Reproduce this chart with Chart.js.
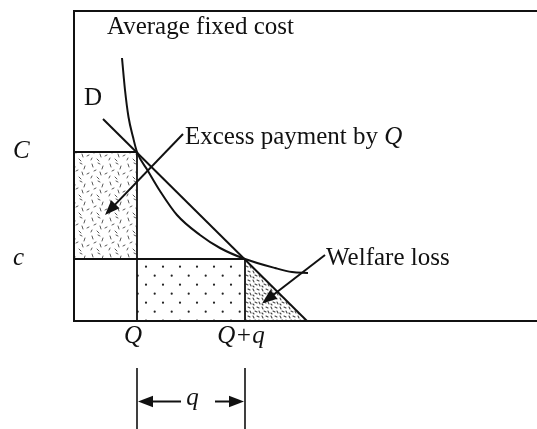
<!DOCTYPE html>
<html>
<head>
<meta charset="utf-8">
<script src="https://cdn.jsdelivr.net/npm/chart.js@4.4.1/dist/chart.umd.min.js"></script>
<style>
	html, body { margin: 0; padding: 0; background: #fff; }
	canvas { display: block; }
</style>
</head>
<body>
<canvas id="chart" width="537" height="429"></canvas>
<script>
;(function () {
	'use strict';

	// Quantities on the horizontal axis
	var qtyLabels = ['Q', 'Q+q'];
	var qtyValues = [6.3, 17.1];

	// Cost levels on the vertical axis
	var costLabels = ['C', 'c'];
	var costValues = [16.9, 6.2];

	// Demand line D (two end points)
	var demandX = [2.9, 23.3];
	var demandY = [20.2, 0];

	// Average fixed cost curve
	var afcX = [4.8, 5.1, 5.45, 5.9, 6.3, 7.4, 8.6, 10.3, 12.6, 14.6, 17.1, 20.1, 21.8, 23.4];
	var afcY = [26.3, 23.1, 20.4, 18.4, 16.9, 15.0, 13.0, 10.6, 8.6, 7.3, 6.2, 5.3, 4.9, 4.8];

	var Q = qtyValues[0],
		Qq = qtyValues[1],
		C = costValues[0],
		c = costValues[1],
		demandEnd = demandX[1];

	var SERIF = '"Liberation Serif", "Times New Roman", serif';

	function points(xs, ys) {
		return xs.map(function (v, i) { return {x: v, y: ys[i]}; });
	}

	function makePattern(w, h, draw) {
		var tile = document.createElement('canvas'),
			g = tile.getContext('2d');
		tile.width = w;
		tile.height = h;
		g.fillStyle = '#fff';
		g.fillRect(0, 0, w, h);
		draw(g);
		return g.createPattern(tile, 'repeat');
	}

	function strokes(list, color, width) {
		return function (g) {
			g.strokeStyle = color;
			g.lineWidth = width;
			g.lineCap = 'round';
			list.forEach(function (s) {
				g.beginPath();
				g.moveTo(s[0], s[1]);
				g.lineTo(s[2], s[3]);
				g.stroke();
			});
		};
	}

	// loose speckle for the excess payment block
	var speckle = makePattern(18, 18, strokes([
		[2, 2, 3, 5], [8, 1, 10, 2], [13, 4, 12, 7], [4, 9, 6, 8],
		[10, 10, 11, 13], [15, 12, 17, 11], [2, 14, 1, 16], [7, 15, 9, 17]
	], '#5a5a5a', 1));

	// regular staggered dots for the Q..Q+q block
	var dots = makePattern(17, 18, function (g) {
		g.fillStyle = '#222';
		g.beginPath();
		g.arc(10, 14.7, 1.1, 0, Math.PI * 2);
		g.arc(1.7, 5.7, 1.1, 0, Math.PI * 2);
		g.fill();
	});

	// dense speckle for the welfare loss triangle
	var dense = makePattern(9, 9, strokes([
		[1, 1, 2, 3], [5, 1, 7, 2], [3, 5, 5, 6], [7, 5, 8, 7], [1, 7, 2, 8]
	], '#444', 1.1));

	function arrow(ctx, x1, y1, x2, y2, head) {
		var a = Math.atan2(y2 - y1, x2 - x1),
			ca = Math.cos(a),
			sa = Math.sin(a),
			w = head * 0.38;

		ctx.beginPath();
		ctx.moveTo(x1, y1);
		ctx.lineTo(x2 - ca * head * 0.8, y2 - sa * head * 0.8);
		ctx.stroke();

		ctx.beginPath();
		ctx.moveTo(x2, y2);
		ctx.lineTo(x2 - head * ca + w * sa, y2 - head * sa - w * ca);
		ctx.lineTo(x2 - head * ca - w * sa, y2 - head * sa + w * ca);
		ctx.closePath();
		ctx.fill();
	}

	// Frame, axis labels, captions and arrows
	var annotate = {
		id: 'annotate',
		afterDatasetsDraw: function (chart) {
			var ctx = chart.ctx,
				xs = chart.scales.x,
				ys = chart.scales.y,
				area = chart.chartArea,
				px = function (v) { return xs.getPixelForValue(v); },
				py = function (v) { return ys.getPixelForValue(v); },
				caption, captionWidth;

			ctx.save();
			ctx.strokeStyle = '#111';
			ctx.fillStyle = '#111';
			ctx.lineWidth = 2;
			ctx.beginPath();
			ctx.moveTo(area.right, area.top);
			ctx.lineTo(area.left, area.top);
			ctx.lineTo(area.left, area.bottom);
			ctx.lineTo(area.right, area.bottom);
			ctx.stroke();

			ctx.textBaseline = 'alphabetic';

			// cost levels, left of the axis
			ctx.font = 'italic 25px ' + SERIF;
			ctx.textAlign = 'left';
			costLabels.forEach(function (lbl, i) {
				ctx.fillText(lbl, 13, py(costValues[i]) + 6);
			});

			// quantities, under the axis
			ctx.textAlign = 'center';
			qtyLabels.forEach(function (lbl, i) {
				ctx.fillText(lbl, px(qtyValues[i]) - 4, py(0) + 22);
			});

			// q bracket below the quantities
			ctx.lineWidth = 1.6;
			ctx.beginPath();
			ctx.moveTo(px(Q), py(-4.7));
			ctx.lineTo(px(Q), py(-11));
			ctx.moveTo(px(Qq), py(-4.7));
			ctx.lineTo(px(Qq), py(-11));
			ctx.stroke();
			ctx.lineWidth = 2;
			arrow(ctx, px(10.7), py(-8.05), px(Q) + 1, py(-8.05), 15);
			arrow(ctx, px(14.1), py(-8.05), px(Qq) - 1, py(-8.05), 15);
			ctx.fillText('q', px(11.85), py(-8.4));

			// captions
			ctx.textAlign = 'left';
			ctx.font = '25px ' + SERIF;
			ctx.fillText('Average fixed cost', px(3.3), py(28.7));
			ctx.fillText('D', px(1.0), py(21.6));
			ctx.fillText('Welfare loss', px(25.2), py(5.6));

			caption = 'Excess payment by ';
			captionWidth = ctx.measureText(caption).width;
			ctx.fillText(caption, px(11.1), py(17.7));
			ctx.font = 'italic 25px ' + SERIF;
			ctx.fillText('Q', px(11.1) + captionWidth, py(17.7));

			ctx.lineWidth = 2;
			arrow(ctx, px(10.9), py(18.7), px(3.1), py(10.6), 15);
			arrow(ctx, px(25.1), py(6.6), px(18.8), py(1.75), 15);

			ctx.restore();
		}
	};

	var line = function (data, width) {
		return {
			data: data,
			showLine: true,
			borderColor: '#111',
			borderWidth: width,
			pointRadius: 0,
			fill: false,
			order: 1
		};
	};

	var excess = {
		data: [{x: 0, y: C}, {x: Q, y: C}],
		showLine: true,
		borderWidth: 0,
		pointRadius: 0,
		backgroundColor: speckle,
		fill: {value: c},
		order: 3
	};

	var payment = {
		data: [{x: Q, y: c}, {x: Qq, y: c}],
		showLine: true,
		borderWidth: 0,
		pointRadius: 0,
		backgroundColor: dots,
		fill: 'origin',
		order: 3
	};

	var loss = {
		data: [{x: Qq, y: c}, {x: demandEnd, y: 0}],
		showLine: true,
		borderWidth: 0,
		pointRadius: 0,
		backgroundColor: dense,
		fill: 'origin',
		order: 3
	};

	var afc = line(points(afcX, afcY), 2);
	afc.cubicInterpolationMode = 'monotone';

	new Chart(document.getElementById('chart'), {
		type: 'scatter',
		data: {
			datasets: [
				excess, payment, loss,
				line([{x: 0, y: C}, {x: Q, y: C}], 1.8),
				line([{x: 0, y: c}, {x: Qq, y: c}], 1.8),
				line([{x: Q, y: 0}, {x: Q, y: C}], 1.8),
				line([{x: Qq, y: 0}, {x: Qq, y: c}], 1.8),
				line(points(demandX, demandY), 2),
				afc
			]
		},
		options: {
			responsive: false,
			animation: false,
			devicePixelRatio: 1,
			layout: {padding: {left: 74, top: 11, right: 0, bottom: 108}},
			plugins: {legend: {display: false}, tooltip: {enabled: false}},
			scales: {
				x: {type: 'linear', min: 0, max: 46.3, display: false},
				y: {type: 'linear', min: 0, max: 31, display: false}
			}
		},
		plugins: [annotate]
	});
})();
</script>
</body>
</html>
